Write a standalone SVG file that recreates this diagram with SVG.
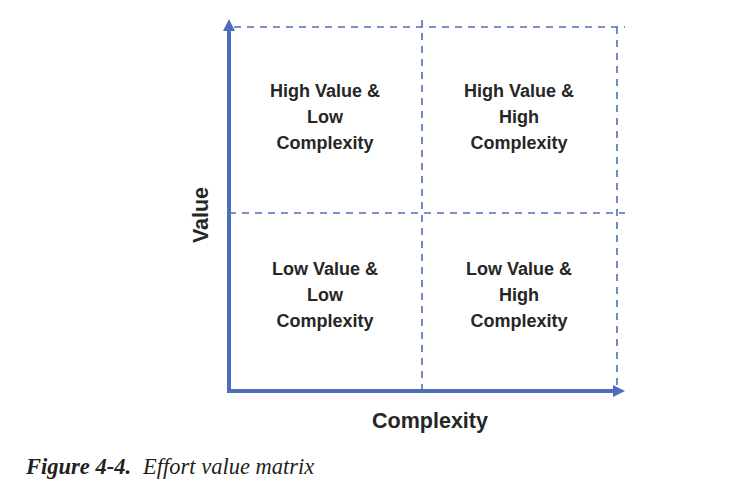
<svg xmlns="http://www.w3.org/2000/svg" width="754" height="503" viewBox="0 0 754 503">
<style>
.axis{stroke:#4f6dbd;stroke-width:4;fill:none}
.dash{stroke:#4f6dbd;stroke-width:1.6;stroke-dasharray:7 6;fill:none}
.q{font-family:"Liberation Sans",Arial,sans-serif;font-weight:bold;font-size:18px;fill:#262626;text-anchor:middle}
.ax{font-family:"Liberation Sans",Arial,sans-serif;font-weight:bold;font-size:21.5px;fill:#262626;text-anchor:middle}
.cap{font-family:"Liberation Serif","Times New Roman",serif;font-style:italic;font-size:22.5px;fill:#231f20}
</style>
<rect width="754" height="503" fill="#fff"/>
<g id="connectors">
<line class="dash" x1="234" y1="27" x2="625" y2="27"/>
<line class="dash" x1="617" y1="27" x2="617" y2="385"/>
<line class="dash" x1="229" y1="213" x2="625" y2="213"/>
<line class="dash" x1="422" y1="20" x2="422" y2="389"/>
<line class="axis" x1="229" y1="29" x2="229" y2="391"/>
<line class="axis" x1="227" y1="391" x2="615" y2="391"/>
<polygon points="229,19 223,31 235,31" fill="#4f6dbd"/>
<polygon points="625,391 613,385 613,397" fill="#4f6dbd"/>
</g>
<g id="q1"><text class="q" x="325" y="97">High Value &amp;</text><text class="q" x="325" y="123">Low</text><text class="q" x="325" y="149">Complexity</text></g>
<g id="q2"><text class="q" x="519" y="97">High Value &amp;</text><text class="q" x="519" y="123">High</text><text class="q" x="519" y="149">Complexity</text></g>
<g id="q3"><text class="q" x="325" y="275">Low Value &amp;</text><text class="q" x="325" y="301">Low</text><text class="q" x="325" y="327">Complexity</text></g>
<g id="q4"><text class="q" x="519" y="275">Low Value &amp;</text><text class="q" x="519" y="301">High</text><text class="q" x="519" y="327">Complexity</text></g>
<g id="yaxis"><text class="ax" transform="translate(208,215) rotate(-90)">Value</text></g>
<g id="xaxis"><text class="ax" x="430" y="428">Complexity</text></g>
<text class="cap" x="26" y="474"><tspan font-weight="bold">Figure 4-4.</tspan><tspan dx="12">Effort value matrix</tspan></text>
</svg>
